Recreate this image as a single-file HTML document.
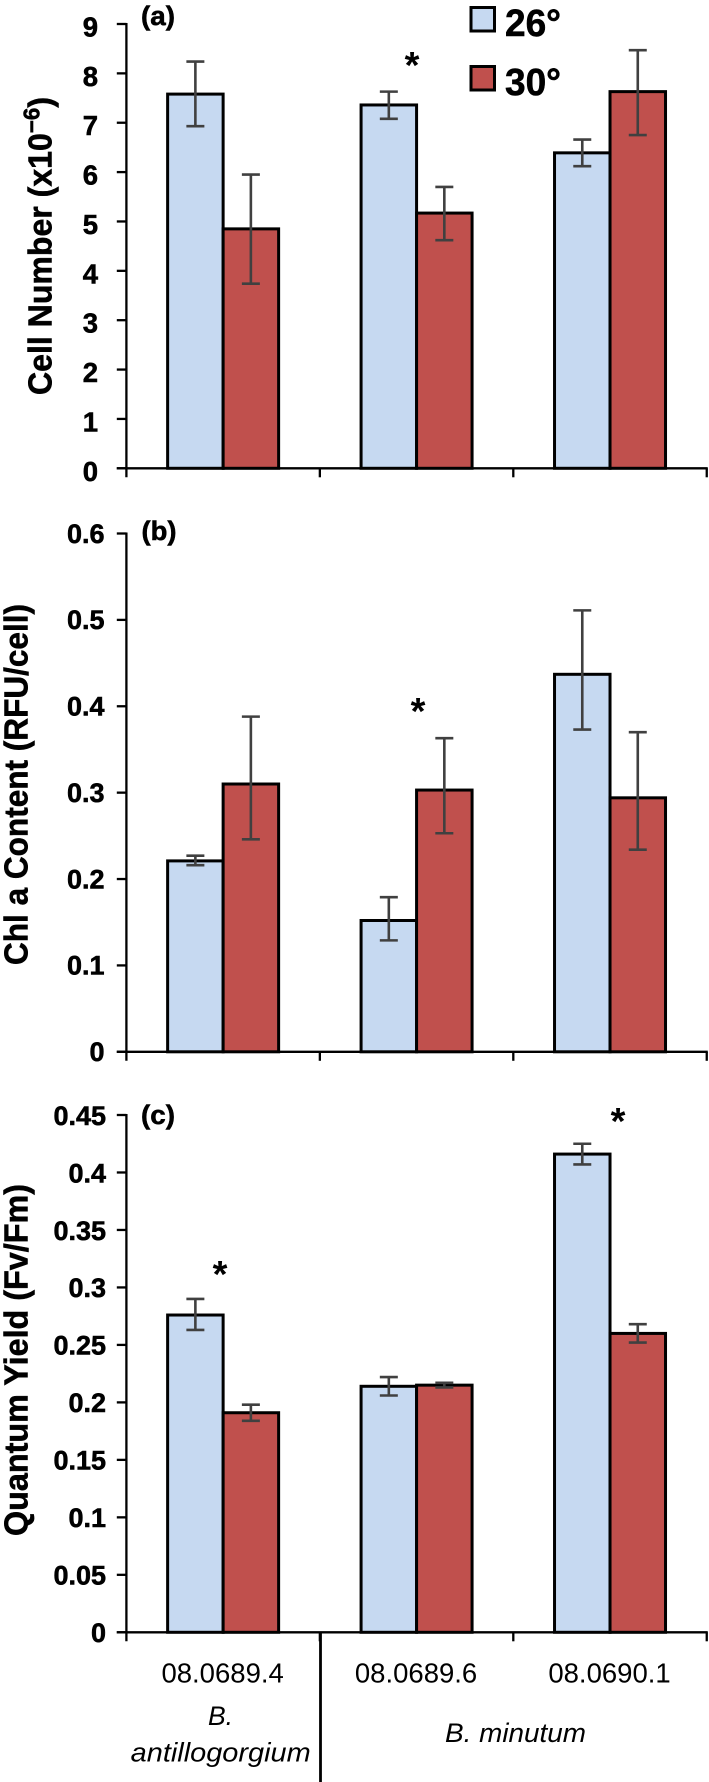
<!DOCTYPE html>
<html>
<head>
<meta charset="utf-8">
<title>Cell number, chlorophyll and quantum yield</title>
<style>
html,body{margin:0;padding:0;background:#fff;width:709px;height:1782px;overflow:hidden}
svg{display:block}
text{font-family:"Liberation Sans",sans-serif;fill:#000}
.heavy{stroke:#000;stroke-width:.55px}
</style>
</head>
<body>
<svg id="chart" xmlns="http://www.w3.org/2000/svg" width="709" height="1782" viewBox="0 0 709 1782">
  <g>
    <rect x="471" y="7.5" width="23.5" height="23.5" fill="#c6d9f1" stroke="#000" stroke-width="3"/>
    <text class="heavy" x="505" y="36" font-size="38" font-weight="bold" textLength="56" lengthAdjust="spacingAndGlyphs">26°</text>
    <rect x="471" y="66.5" width="23.5" height="23.5" fill="#c0504d" stroke="#000" stroke-width="3"/>
    <text class="heavy" x="505" y="95" font-size="38" font-weight="bold" textLength="56" lengthAdjust="spacingAndGlyphs">30°</text>
  </g>
  <text class="heavy" transform="translate(51.5,395) rotate(-90)" font-size="33" font-weight="bold" textLength="298" lengthAdjust="spacingAndGlyphs">Cell Number (x10<tspan font-size="23" dy="-12">−6</tspan><tspan dy="12">)</tspan></text>
  <text class="heavy" transform="translate(27.5,965) rotate(-90)" font-size="33" font-weight="bold" textLength="361" lengthAdjust="spacingAndGlyphs">Chl a Content (RFU/cell)</text>
  <text class="heavy" transform="translate(27.5,1536) rotate(-90)" font-size="33" font-weight="bold" textLength="352" lengthAdjust="spacingAndGlyphs">Quantum Yield (Fv/Fm)</text>
  <text class="heavy" x="141" y="25" font-size="27" font-weight="bold" textLength="34" lengthAdjust="spacingAndGlyphs">(a)</text>
  <text class="heavy" x="141.5" y="540" font-size="27" font-weight="bold" textLength="35" lengthAdjust="spacingAndGlyphs">(b)</text>
  <text class="heavy" x="141" y="1124" font-size="27" font-weight="bold" textLength="34" lengthAdjust="spacingAndGlyphs">(c)</text>
  <line x1="320.5" y1="1632" x2="320.5" y2="1782" stroke="#000" stroke-width="2.8"/>
  <text x="220.5" y="1725" font-size="26.5" font-style="italic" text-anchor="middle">B.</text>
  <text x="220.7" y="1761.5" font-size="26.5" font-style="italic" text-anchor="middle" textLength="180" lengthAdjust="spacingAndGlyphs">antillogorgium</text>
  <text x="515.5" y="1742" font-size="26.5" font-style="italic" text-anchor="middle" textLength="141" lengthAdjust="spacingAndGlyphs">B. minutum</text>
</svg>
<script>
const categories = ["08.0689.4", "08.0689.6", "08.0690.1"];

const ticksA = [0, 1, 2, 3, 4, 5, 6, 7, 8, 9];
const tickLabelsA = ["0", "1", "2", "3", "4", "5", "6", "7", "8", "9"];
const cellNumber26 = [7.58, 7.36, 6.39];
const cellNumber30 = [4.85, 5.17, 7.63];
const cellNumber26Hi = [8.24, 7.63, 6.66];
const cellNumber26Lo = [6.93, 7.08, 6.12];
const cellNumber30Hi = [5.95, 5.7, 8.47];
const cellNumber30Lo = [3.74, 4.62, 6.75];

const ticksB = [0, 0.1, 0.2, 0.3, 0.4, 0.5, 0.6];
const tickLabelsB = ["0", "0.1", "0.2", "0.3", "0.4", "0.5", "0.6"];
const chl26 = [0.221, 0.152, 0.437];
const chl30 = [0.31, 0.303, 0.294];
const chl26Hi = [0.227, 0.179, 0.511];
const chl26Lo = [0.216, 0.129, 0.373];
const chl30Hi = [0.388, 0.363, 0.37];
const chl30Lo = [0.246, 0.253, 0.234];

const ticksC = [0, 0.05, 0.1, 0.15, 0.2, 0.25, 0.3, 0.35, 0.4, 0.45];
const tickLabelsC = ["0", "0.05", "0.1", "0.15", "0.2", "0.25", "0.3", "0.35", "0.4", "0.45"];
const yield26 = [0.276, 0.214, 0.416];
const yield30 = [0.191, 0.215, 0.26];
const yield26Hi = [0.29, 0.222, 0.425];
const yield26Lo = [0.263, 0.206, 0.407];
const yield30Hi = [0.198, 0.217, 0.268];
const yield30Lo = [0.184, 0.213, 0.252];

const NS = "http://www.w3.org/2000/svg";
const svg = document.getElementById("chart");
const AX_LEFT = 126.4, BAND = 193.45, BAR_W = 55.5;

function mk(tag, attrs, parent, text) {
  const el = document.createElementNS(NS, tag);
  for (const k in attrs) el.setAttribute(k, attrs[k]);
  if (text !== undefined) el.textContent = text;
  parent.appendChild(el);
  return el;
}
function xBand(i) { return AX_LEFT + BAND * (i + 0.5); }

function drawPanel(id, ticks, labels, s26, s30, hi26, lo26, hi30, lo30, top, bottom, fontSize, labelRight, labelShift) {
  const yMax = ticks[ticks.length - 1];
  const y = v => bottom - (v / yMax) * (bottom - top);
  const g = mk("g", {}, svg);
  
  

  categories.forEach((c, i) => {
    const seriesList = [
      { key: "26", v: s26[i], hi: hi26[i], lo: lo26[i], color: "#c6d9f1", x: xBand(i) - BAR_W },
      { key: "30", v: s30[i], hi: hi30[i], lo: lo30[i], color: "#c0504d", x: xBand(i) }
    ];
    seriesList.forEach(s => {
      const bar = mk("rect", { x: s.x, y: y(s.v), width: BAR_W, height: bottom - y(s.v), fill: s.color, stroke: "#000", "stroke-width": 3 }, g);
      
      
    });
    seriesList.forEach(s => {
      const cx = s.x + BAR_W / 2;
      const err = mk("path", {
        d: "M" + cx + " " + y(s.hi) + "V" + y(s.lo) + "M" + (cx - 9) + " " + y(s.hi) + "H" + (cx + 9) + "M" + (cx - 9) + " " + y(s.lo) + "H" + (cx + 9),
        fill: "none", stroke: "#404040", "stroke-width": 2.6
      }, g);
      
      
    });
  });

  const yAxis = mk("line", { x1: AX_LEFT, x2: AX_LEFT, y1: top - 1, y2: bottom + 9, stroke: "#000", "stroke-width": 2.3 }, g);
  
  
  const xAxis = mk("line", { x1: AX_LEFT - 9.6, x2: AX_LEFT + BAND * 3 + 1, y1: bottom, y2: bottom, stroke: "#000", "stroke-width": 2.3 }, g);
  
  

  ticks.forEach((t, i) => {
    const tick = mk("line", { x1: AX_LEFT - 9.6, x2: AX_LEFT, y1: y(t), y2: y(t), stroke: "#000", "stroke-width": 2.3 }, g);
    
    
    const lab = mk("text", {
      x: labelRight, y: y(t) + labelShift + fontSize * 0.345,
      "font-size": fontSize, "font-weight": "bold", "text-anchor": "end", class: "heavy"
    }, g, labels[i]);
    
    
  });
  for (let i = 1; i <= categories.length; i++) {
    const xt = AX_LEFT + BAND * i;
    const tick = mk("line", { x1: xt, x2: xt, y1: bottom, y2: bottom + 9, stroke: "#000", "stroke-width": 2.3 }, g);
    
    
  }
  return y;
}

drawPanel("a", ticksA, tickLabelsA, cellNumber26, cellNumber30, cellNumber26Hi, cellNumber26Lo, cellNumber30Hi, cellNumber30Lo, 24, 468.3, 27.5, 98, 3);
drawPanel("b", ticksB, tickLabelsB, chl26, chl30, chl26Hi, chl26Lo, chl30Hi, chl30Lo, 533.5, 1051.8, 27, 104.5, 0);
drawPanel("c", ticksC, tickLabelsC, yield26, yield30, yield26Hi, yield26Lo, yield30Hi, yield30Lo, 1115, 1632.3, 27, 106, 0.5);

categories.forEach((c, i) => {
  const lab = mk("text", { x: xBand(i) - 0.5, y: 1682.3, "font-size": 27.5, "text-anchor": "middle" }, svg, c);
  
  
});

const starA = mk("text", { x: 412, y: 78, "font-size": 38, "font-weight": "bold", "text-anchor": "middle" }, svg, "*");


const starB = mk("text", { x: 418, y: 724, "font-size": 38, "font-weight": "bold", "text-anchor": "middle" }, svg, "*");


const starC1 = mk("text", { x: 220, y: 1287, "font-size": 38, "font-weight": "bold", "text-anchor": "middle" }, svg, "*");


const starC2 = mk("text", { x: 618, y: 1134, "font-size": 38, "font-weight": "bold", "text-anchor": "middle" }, svg, "*");


</script>
</body>
</html>
